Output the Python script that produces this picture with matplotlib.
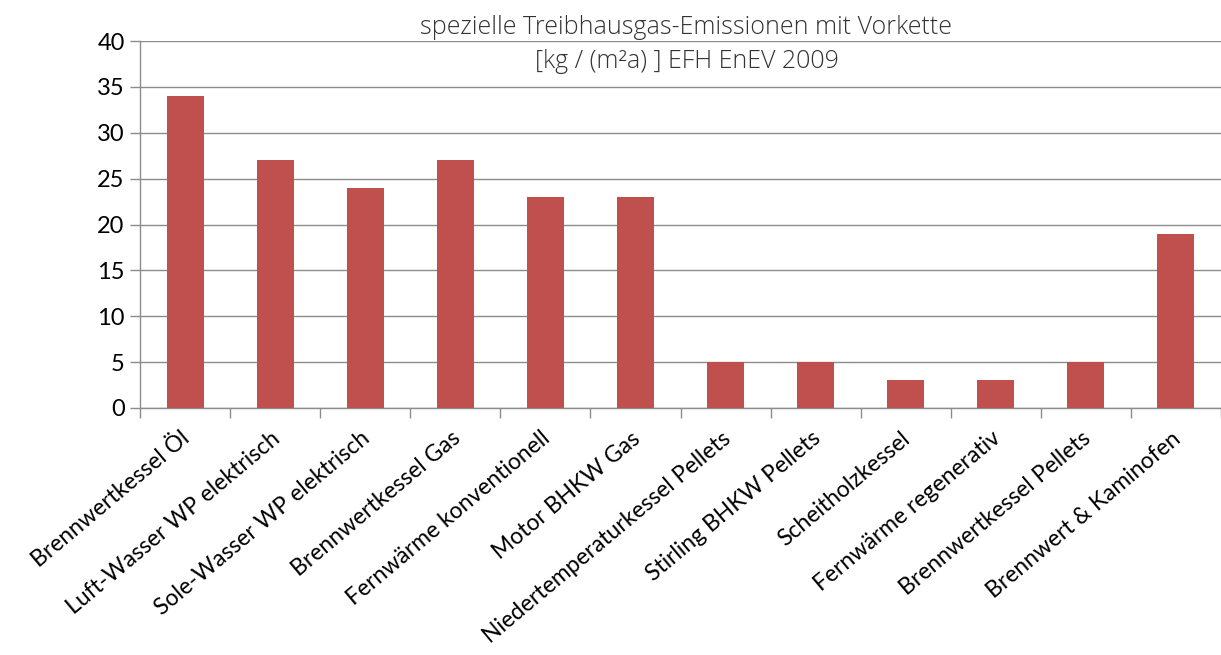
import numpy as np
import matplotlib.pyplot as plt
from matplotlib.ticker import FixedLocator
from matplotlib.transforms import ScaledTranslation

# Daten
kategorien = [
    'Brennwertkessel Öl',
    'Luft-Wasser WP elektrisch',
    'Sole-Wasser WP elektrisch',
    'Brennwertkessel Gas',
    'Fernwärme konventionell',
    'Motor BHKW Gas',
    'Niedertemperaturkessel Pellets',
    'Stirling BHKW Pellets',
    'Scheitholzkessel',
    'Fernwärme regenerativ',
    'Brennwertkessel Pellets',
    'Brennwert & Kaminofen',
]
emissionen = [34, 27, 24, 27, 23, 23, 5, 5, 3, 3, 5, 19]
y_ticks = [0, 5, 10, 15, 20, 25, 30, 35, 40]

grau = '#8c8c8c'
balken = '#c0504d'

fig = plt.figure(figsize=(12.21, 6.55), dpi=100)
ax = fig.add_axes([140 / 1221, 1 - 408 / 655, 1 - 140 / 1221, (408 - 41) / 655])

x = np.arange(len(kategorien))
ax.bar(x, emissionen, width=0.41, color=balken, zorder=3)

ax.set_xlim(-0.5, len(kategorien) - 0.5)
ax.set_ylim(0, 40)
ax.set_yticks(y_ticks)
ax.yaxis.grid(True, color=grau, linewidth=1.0, zorder=0)

# Kategorie-Beschriftungen
ax.set_xticks(x)
ax.set_xticklabels(kategorien, rotation=40, ha='right', va='center',
                   rotation_mode='anchor', fontsize=16.5, family='Lato')
ax.tick_params(axis='x', which='major', length=0, pad=20)
verschiebung = ScaledTranslation(2 / 100, 0, fig.dpi_scale_trans)
for lab in ax.get_xticklabels():
    lab.set_transform(lab.get_transform() + verschiebung)
# Trennstriche zwischen den Kategorien
ax.xaxis.set_minor_locator(FixedLocator(np.arange(-0.5, len(kategorien), 1.0)))
ax.tick_params(axis='x', which='minor', length=7, color=grau, width=1)

ax.tick_params(axis='y', length=7, color=grau, width=1, pad=4, labelsize=17)
for lab in ax.get_yticklabels():
    lab.set_family('Lato')

for s in ['top', 'right']:
    ax.spines[s].set_visible(False)
for s in ['left', 'bottom']:
    ax.spines[s].set_color(grau)
    ax.spines[s].set_linewidth(1.0)

fig.text(0.562, 1 - 28 / 655, 'spezielle Treibhausgas-Emissionen mit Vorkette',
         ha='center', va='center', fontsize=18, family='Open Sans',
         fontweight='light', color='#333333')
fig.text(0.563, 1 - 62 / 655, '[kg / (m²a) ] EFH EnEV 2009',
         ha='center', va='center', fontsize=18, family='Open Sans',
         fontweight='light', color='#333333')

fig.savefig('out.png', dpi=100)
